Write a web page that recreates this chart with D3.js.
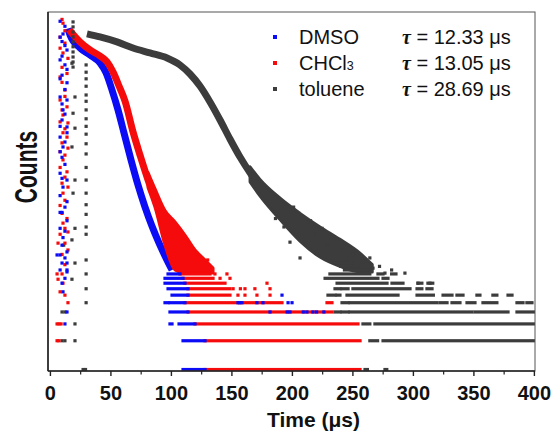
<!DOCTYPE html>
<html>
<head>
<meta charset="utf-8">
<script src="https://cdn.jsdelivr.net/npm/d3@7"></script>
<style>
  body { margin: 0; background: #fff; }
  svg { display: block; }
  text { font-family: "Liberation Sans", Arial, sans-serif; fill: #111; }
</style>
</head>
<body>
<svg id="chart" width="555" height="434"></svg>
<script>
// decay traces, [time (us), counts]
var dmsoCurve = [[14.5, 3700], [16.2, 3170], [24.5, 2313], [32.7, 1955], [41, 1613], [46, 1268], [50.9, 841],
  [55.9, 519], [60.8, 299], [66.6, 156], [72.4, 85], [78.2, 50], [83.9, 31.7], [89.8, 21], [95.5, 14.7], [100.5, 11]];
var chcl3Curve = [[15.5, 3600], [17, 3400], [24.5, 2675], [32.7, 2205], [41, 1908], [46.8, 1652], [51.7, 1299],
  [56.7, 926], [61.7, 640], [68.3, 305], [74, 176], [80.7, 96], [86.4, 62], [92.2, 44.5], [98.8, 32.5],
  [105.5, 22.6], [112, 15.8], [118.7, 11.5]];
var tolueneCurve = [[30.2, 3245], [41, 3015], [55, 2675], [68.3, 2313], [82.3, 2053], [96.4, 1819], [107.1, 1536],
  [115.4, 1236], [123.6, 925], [131.9, 630], [140.2, 408], [148.4, 258], [156.7, 167], [165, 114], [173.2, 81],
  [181.5, 61], [189.8, 48], [198, 37.6], [206.3, 31.7], [214.5, 25], [231, 17], [247.6, 12.7]];

// noisy tails, [time, low, high]
var chcl3Tail = [[80.7, 80, 115], [86.4, 50, 78], [94.7, 20, 46], [103, 11, 35], [111.2, 10.2, 25.5],
  [119.5, 10.2, 17.8], [127.8, 10.2, 14], [134.4, 10.2, 11.5]];
var tolueneTail = [[165, 92, 132], [173, 66, 98], [189.8, 37, 62], [206.3, 22, 43], [222.8, 15, 31],
  [239.3, 12, 23], [255.8, 10.5, 16.5], [266, 10.5, 12.5]];

// runs of equal low counts, [counts, from, to]
var dmsoRows = [[1, 109.6, 127.8], [2, 109.6, 127.8], [3, 98.8, 100.5], [3, 106.3, 119.5], [4, 98.8, 113.7],
  [5, 94.7, 97.2], [5, 98.8, 111.2], [6, 100.5, 113.7], [7, 97.2, 113.7], [8, 94.7, 111.2], [9, 94.7, 109.6],
  [10, 97.2, 107.1]];
var chcl3Rows = [[1, 127.8, 255.9], [2, 127.8, 255.9], [3, 119.5, 254.2], [4, 113.7, 232.7], [5, 111.2, 191.4],
  [5, 228.6, 232.7], [6, 113.7, 148.4], [7, 113.7, 148.4], [8, 111.2, 144.3], [9, 109.6, 134.4], [10, 107.1, 131.9]];
var tolueneRows = [[1, 260, 262], [1, 276.5, 278], [2, 264, 270.4], [2, 274.9, 400.5], [3, 258.3, 264],
  [3, 268.2, 400.5], [4, 235.2, 239.3], [4, 241, 246], [4, 247.6, 348.4], [4, 350.9, 378.2], [4, 385.6, 400.5],
  [5, 241, 246], [5, 247.6, 319.5], [5, 322, 327.8], [5, 331.9, 338.5], [5, 344.3, 350.9], [5, 357.5, 369],
  [5, 385.6, 390.6], [5, 393.8, 398], [6, 229.4, 235.2], [6, 236.9, 239.3], [6, 245.1, 287.3], [6, 303, 316.5],
  [6, 324.5, 331.9], [6, 336, 341], [6, 352.5, 355], [6, 365.7, 369], [6, 378.2, 381.5], [7, 235.2, 239.3],
  [7, 241, 246], [7, 250, 297.2], [7, 303, 307], [7, 311.2, 315.4], [8, 236.9, 278.2], [8, 282.3, 291.4],
  [8, 303.8, 307], [8, 312, 316], [9, 227, 270.7], [9, 274.9, 279], [10, 231, 264], [10, 270.7, 274.9],
  [10, 282, 285.6], [11, 243, 262], [12, 240, 256], [13, 236, 250]];

// single points, [time, counts]
var dmsoDots = [[8, 4400], [10.4, 3240], [9.6, 2700], [13.7, 2200], [8, 1735], [12, 1540], [9.6, 1200],
  [13.7, 1000], [8, 710], [13.7, 660], [10.4, 520], [9.6, 408], [13.7, 345], [8, 270], [10.4, 213], [9.6, 166],
  [8, 113], [13.7, 96], [10.4, 81], [13.7, 57], [8, 44], [9.6, 44], [10.4, 24], [8, 15.8], [9.6, 13], [13.7, 10.5],
  [9.6, 8], [13.7, 4], [12, 3], [5.5, 15.8], [12, 14.7], [13.7, 13], [13.7, 11],
  [12, 3900], [8, 3000], [12, 2450], [9.6, 1900], [13.7, 1380], [8, 1100], [12, 850], [9.6, 600], [12, 470],
  [8, 350], [13.7, 300], [12, 240], [8, 190], [12, 140], [9.6, 100], [8, 66], [12, 50], [13.7, 36], [8, 30],
  [12, 28], [9.6, 20], [13.7, 17], [8, 11], [12, 9], [10.4, 6.5],
  [155, 5], [156.5, 5], [158.3, 5], [170.7, 5], [175.7, 5], [196.4, 5], [199.7, 5], [181.5, 4], [195.7, 4],
  [198, 4], [209, 4], [212, 4], [217, 4], [220, 4], [226, 4], [191.4, 6]];
var chcl3Dots = [[9.6, 4600], [10.4, 4200], [8, 3000], [12, 2600], [10.4, 2050], [14.5, 1800], [9.6, 1450],
  [9.6, 1010], [12, 840], [8, 660], [13.7, 560], [10.4, 460], [14.5, 380], [10.4, 300], [9.6, 235], [14.5, 207],
  [10.4, 156], [13.7, 117], [9.6, 89], [14.5, 81], [12, 59], [9.6, 43], [10.4, 34], [14.5, 27.5], [6.3, 21],
  [14.5, 17.8], [5.5, 10], [9.6, 10], [6.3, 8.8], [10.4, 8], [14.5, 5], [5.5, 3], [7.1, 3], [8.8, 3], [5.5, 2],
  [7.1, 2], [12, 3500], [8, 2300], [13.7, 1250], [8, 1150], [12, 720], [9.6, 520], [8, 390], [12, 330],
  [13.7, 270], [8, 190], [12, 175], [8, 130], [12, 103], [10.4, 70], [8, 52], [13.7, 38], [12, 30], [8, 26],
  [12, 21], [9.6, 16], [12, 12.5], [8, 6.5], [12, 6],
  [155, 6], [160.8, 6], [170.7, 6], [181.5, 6], [151, 7], [157, 7], [160.8, 7], [169, 7], [181.5, 7],
  [179, 8], [140.2, 9], [148.4, 9], [136, 10], [145.9, 10], [130, 14], [121, 16.5]];
var tolueneDots = [[18.7, 4330], [18.7, 3840], [18.7, 3400], [18.7, 3020], [18.7, 2680], [18.7, 2380],
  [18.7, 2100], [18.7, 1860], [18.7, 1650], [18.7, 1460],
  [17.8, 1600], [20.3, 710], [18.7, 480], [20.3, 335], [17.8, 213], [20.3, 96], [18.7, 70], [20.3, 30],
  [17.8, 22.7], [20.3, 13], [17.8, 8.8], [11, 20], [9.6, 4], [12, 4], [20.3, 3], [9.6, 2], [12, 2], [20.3, 2],
  [27, 1], [29, 1],
  [29.5, 1537], [29.5, 1290], [29.5, 1100], [29.5, 920], [29.5, 745], [29.5, 640], [29.5, 520], [29.5, 420],
  [29.5, 350], [29.5, 290], [29.5, 230], [29.5, 180], [29.5, 130], [29.5, 96], [29.5, 70], [29.5, 53],
  [29.5, 42], [29.5, 31], [29.5, 26], [29.5, 14], [29.5, 10], [29.5, 7], [29.5, 5],
  [266.6, 11.5], [276.5, 10.2], [293, 10.2], [303.8, 8], [313.7, 8], [254.2, 12.4], [264, 14.7], [245, 14.7],
  [224.5, 30], [212.9, 35], [198, 21.5], [206.3, 14.7], [236.9, 22.7], [241, 17.8], [272, 12], [282, 11],
  [258, 13.5], [250, 16], [229, 20], [219, 26], [186, 38], [193, 31], [178, 58], [201, 50], [215, 36]];

var xTicks = [0, 50, 100, 150, 200, 250, 300, 350, 400];
var xMinorTicks = [25, 75, 125, 175, 225, 275, 325, 375];
var legendNames = ['DMSO', 'CHCl', 'toluene'];
var legendTaus = ['12.33', '13.05', '28.69'];

var colors = { dmso: '#0b0bf5', chcl3: '#f50b0b', toluene: '#3c3c3c' };

var svg = d3.select('#chart');
// "top" is taken by window.top, so the plot box gets its own names
var plotL = 48, plotR = 535, plotT = 12, plotB = 371;

var x = d3.scaleLinear().domain([-2, 400.5]).range([plotL, plotR]);
var y = d3.scaleLog().domain([0.965, 5500]).range([plotB, plotT]);

svg.append('clipPath').attr('id', 'plot')
  .append('rect').attr('x', plotL).attr('y', plotT).attr('width', plotR - plotL).attr('height', plotB - plotT);

var g = svg.append('g').attr('clip-path', 'url(#plot)');

var line = d3.line().x(function(d) { return x(d[0]); }).y(function(d) { return y(d[1]); })
  .curve(d3.curveMonotoneX);
var area = d3.area().x(function(d) { return x(d[0]); })
  .y0(function(d) { return y(d[1]); }).y1(function(d) { return y(d[2]); })
  .curve(d3.curveMonotoneX);

function drawCurve(data, color) {
  g.append('path').datum(data).attr('d', line)
    .attr('fill', 'none').attr('stroke', color).attr('stroke-width', 7)
    .attr('stroke-linejoin', 'round');
}
function drawTail(data, color) {
  g.append('path').datum(data).attr('d', area)
    .attr('fill', color).attr('stroke', color).attr('stroke-width', 3).attr('stroke-linejoin', 'round');
}
function drawRows(data, color) {
  g.selectAll(null).data(data).enter().append('rect')
    .attr('x', function(d) { return x(d[1]) - 1.6; })
    .attr('width', function(d) { return x(d[2]) - x(d[1]) + 3.2; })
    .attr('y', function(d) { return y(d[0]) - 1.6; })
    .attr('height', 3.2)
    .attr('fill', color);
}
function drawDots(data, color) {
  g.selectAll(null).data(data).enter().append('rect')
    .attr('x', function(d) { return x(d[0]) - 1.6; })
    .attr('y', function(d) { return y(d[1]) - 1.6; })
    .attr('width', 3.2).attr('height', 3.2)
    .attr('fill', color);
}

drawCurve(tolueneCurve, colors.toluene);
drawTail(tolueneTail, colors.toluene);
drawCurve(dmsoCurve, colors.dmso);
drawCurve(chcl3Curve, colors.chcl3);
drawTail(chcl3Tail, colors.chcl3);

drawRows(tolueneRows, colors.toluene);
drawRows(chcl3Rows, colors.chcl3);
drawRows(dmsoRows, colors.dmso);
drawDots(tolueneDots, colors.toluene);
drawDots(chcl3Dots, colors.chcl3);
drawDots(dmsoDots, colors.dmso);

// frame
svg.append('rect').attr('x', plotL).attr('y', plotT).attr('width', plotR - plotL).attr('height', plotB - plotT)
  .attr('fill', 'none').attr('stroke', '#555').attr('stroke-width', 1);
svg.append('line').attr('x1', plotL).attr('x2', plotR).attr('y1', plotB).attr('y2', plotB)
  .attr('stroke', '#222').attr('stroke-width', 1.6);
svg.append('line').attr('x1', plotL).attr('x2', plotL).attr('y1', plotT).attr('y2', plotB)
  .attr('stroke', '#222').attr('stroke-width', 1.6);

// x axis ticks
svg.selectAll('.major').data(xTicks).enter().append('line')
  .attr('x1', function(d) { return x(d); }).attr('x2', function(d) { return x(d); })
  .attr('y1', plotB).attr('y2', plotB + 5).attr('stroke', '#222').attr('stroke-width', 1.4);
svg.selectAll('.minor').data(xMinorTicks).enter().append('line')
  .attr('x1', function(d) { return x(d); }).attr('x2', function(d) { return x(d); })
  .attr('y1', plotB).attr('y2', plotB + 3.5).attr('stroke', '#222').attr('stroke-width', 1.2);
svg.selectAll('.tlabel').data(xTicks).enter().append('text')
  .attr('x', function(d) { return x(d); }).attr('y', 400)
  .attr('text-anchor', 'middle').attr('font-size', 20).attr('font-weight', 'bold')
  .text(function(d) { return d; });

svg.append('text').attr('x', 313.5).attr('y', 427).attr('text-anchor', 'middle')
  .attr('font-size', 21).attr('font-weight', 'bold').text('Time (μs)');
// the y title is drawn taller than it is long, as in the original
svg.append('text').attr('transform', 'translate(37,167) rotate(-90) scale(1,1.45)').attr('text-anchor', 'middle')
  .attr('font-size', 21).attr('font-weight', 'bold').text('Counts');

// legend
var legendColors = [colors.dmso, colors.chcl3, colors.toluene];
legendNames.forEach(function(name, i) {
  var base = 44 + i * 26;
  svg.append('rect').attr('x', 273).attr('y', base - 9).attr('width', 4).attr('height', 4)
    .attr('fill', legendColors[i]);
  var t = svg.append('text').attr('x', 299).attr('y', base).attr('font-size', 20).text(name);
  if (i === 1) t.append('tspan').attr('font-size', 12.5).text('3');
  var tau = svg.append('text').attr('x', 402).attr('y', base).attr('font-size', 20);
  tau.append('tspan').attr('font-family', '"Liberation Serif", serif').attr('font-style', 'italic')
    .attr('font-weight', 'bold').text('τ');
  tau.append('tspan').text(' = ' + legendTaus[i] + ' μs');
});
</script>
</body>
</html>
